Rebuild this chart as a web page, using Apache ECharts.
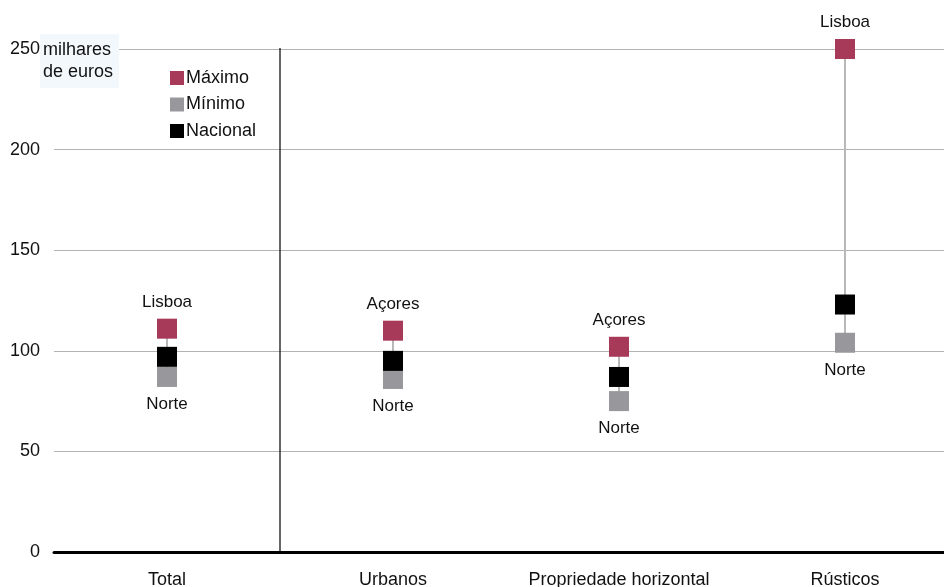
<!DOCTYPE html>
<html>
<head>
<meta charset="utf-8">
<script src="https://cdn.jsdelivr.net/npm/echarts@6/dist/echarts.min.js"></script>
<style>html,body{margin:0;padding:0;background:#fff}#c{width:944px;height:587px}</style>
</head>
<body>
<div id="c"></div>
<script>
var categories = ['Total', 'Urbanos', 'Propriedade horizontal', 'Rústicos'];
var maxValues = [111, 110, 102, 250];
var minValues = [87, 86, 75, 104];
var nationalValues = [97, 95, 87, 123];
var maxRegions = ['Lisboa', 'Açores', 'Açores', 'Lisboa'];
var minRegions = ['Norte', 'Norte', 'Norte', 'Norte'];
var yTicks = { min: 0, max: 250, interval: 50 };

var FONT = 'Liberation Sans, Arial, sans-serif';
var TXT = '#111111';
var chart = echarts.init(document.getElementById('c'));

var rangeData = categories.map(function (c, i) { return [i, minValues[i], maxValues[i]]; });

chart.setOption({
  animation: false,
  backgroundColor: '#ffffff',
  textStyle: { fontFamily: FONT },
  title: {
    text: 'milhares\nde euros',
    left: 40, top: 34,
    padding: [5, 6, 5, 3],
    backgroundColor: '#F3F8FD',
    textStyle: { fontSize: 18, fontWeight: 'normal', color: TXT, lineHeight: 22, fontFamily: FONT }
  },
  legend: {
    orient: 'vertical',
    left: 170, top: 69,
    padding: 0,
    itemWidth: 14, itemHeight: 14, itemGap: 8.5,
    icon: 'rect',
    data: ['Máximo', 'Mínimo', 'Nacional'],
    textStyle: { fontSize: 18, color: TXT, padding: [0, 0, 0, -3], fontFamily: FONT }
  },
  grid: { left: 54, width: 904, top: 49, bottom: 35, containLabel: false, outerBoundsMode: 'none' },
  xAxis: {
    type: 'category',
    data: categories,
    boundaryGap: true,
    axisLine: { lineStyle: { color: '#000', width: 3 } },
    axisTick: { show: false },
    axisLabel: { fontSize: 18, color: TXT, margin: 19, interval: 0, fontFamily: FONT },
    splitLine: { show: false }
  },
  yAxis: {
    type: 'value',
    min: yTicks.min, max: yTicks.max, interval: yTicks.interval,
    axisLine: { show: false },
    axisTick: { show: false },
    axisLabel: { fontSize: 18, color: TXT, margin: 14, fontFamily: FONT },
    splitLine: { lineStyle: { color: '#b3b3b3', width: 1.2 } }
  },
  series: [
    {
      type: 'custom',
      name: 'range',
      silent: true,
      z: 1,
      data: rangeData,
      encode: { x: 0, y: [1, 2] },
      renderItem: function (params, api) {
        var lo = api.coord([api.value(0), api.value(1)]);
        var hi = api.coord([api.value(0), api.value(2)]);
        var children = [{
          type: 'line',
          shape: { x1: lo[0], y1: lo[1], x2: hi[0], y2: hi[1] },
          style: { stroke: '#b8b8b8', lineWidth: 2 }
        }];
        if (params.dataIndex === 0) {
          var band = api.size([1, 0])[0];
          var xs = lo[0] + band / 2;
          var top = api.coord([0, yTicks.max])[1];
          var bot = api.coord([0, yTicks.min])[1];
          children.push({
            type: 'line',
            shape: { x1: xs, y1: top - 1, x2: xs, y2: bot },
            style: { stroke: '#000', lineWidth: 1.2 }
          });
        }
        return { type: 'group', children: children };
      }
    },
    {
      type: 'scatter', name: 'Mínimo', z: 3,
      symbol: 'rect', symbolSize: 20,
      itemStyle: { color: '#98989c', opacity: 1 },
      data: minValues,
      label: {
        show: true, position: 'bottom', distance: 9,
        fontSize: 17, color: TXT, fontFamily: FONT,
        formatter: function (p) { return minRegions[p.dataIndex]; }
      }
    },
    {
      type: 'scatter', name: 'Máximo', z: 3,
      symbol: 'rect', symbolSize: 20,
      itemStyle: { color: '#a63a58', opacity: 1 },
      data: maxValues,
      label: {
        show: true, position: 'top', distance: 8,
        fontSize: 17, color: TXT, fontFamily: FONT,
        formatter: function (p) { return maxRegions[p.dataIndex]; }
      }
    },
    {
      type: 'scatter', name: 'Nacional', z: 4,
      symbol: 'rect', symbolSize: 20,
      itemStyle: { color: '#000000', opacity: 1 },
      data: nationalValues
    }
  ]
});
</script>
</body>
</html>
